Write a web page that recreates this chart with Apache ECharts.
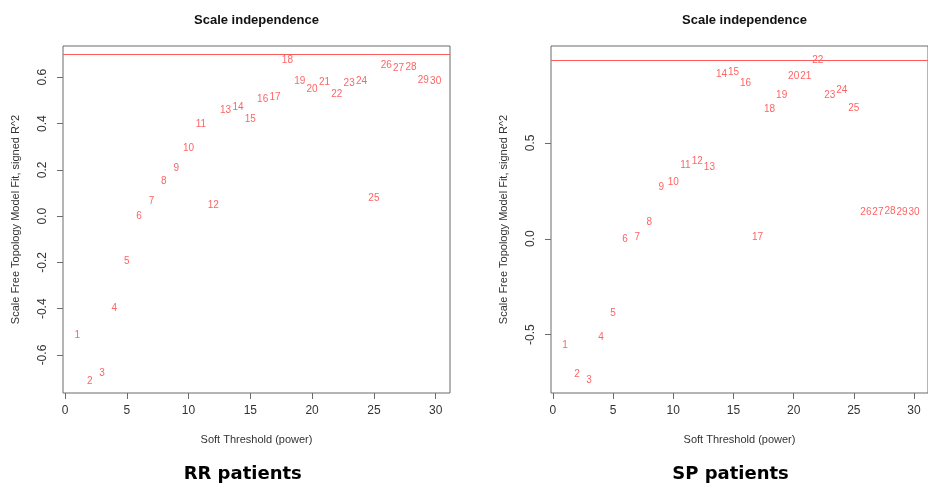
<!DOCTYPE html>
<html>
<head>
<meta charset="utf-8">
<script src="https://cdn.jsdelivr.net/npm/echarts@6/dist/echarts.min.js"></script>
<style>html,body{margin:0;padding:0;background:#fff}#c{width:928px;height:488px}</style>
</head>
<body>
<div id="c"></div>
<script>
// Soft threshold powers
const powers = [1,2,3,4,5,6,7,8,9,10,11,12,13,14,15,16,17,18,19,20,21,22,23,24,25,26,27,28,29,30];
// Scale free topology model fit, signed R^2
const rrFit = [-0.516,-0.712,-0.680,-0.400,-0.195,0.001,0.066,0.152,0.207,0.293,0.397,0.048,0.457,0.472,0.420,0.503,0.512,0.675,0.581,0.547,0.580,0.526,0.575,0.581,0.076,0.652,0.637,0.645,0.585,0.581];
const spFit = [-0.554,-0.708,-0.740,-0.514,-0.387,-0.003,0.007,0.088,0.271,0.297,0.382,0.403,0.371,0.859,0.868,0.812,0.007,0.675,0.750,0.845,0.849,0.932,0.750,0.776,0.682,0.139,0.139,0.144,0.139,0.139];
const rrCut = 0.70;
const spCut = 0.93;
const xTicks = [0,5,10,15,20,25,30];
const rrYTicks = [-0.6,-0.4,-0.2,0.0,0.2,0.4,0.6];
const spYTicks = [-0.5,0.0,0.5];
const panelTitles = ['Scale independence','Scale independence'];
const panelCaptions = ['RR patients','SP patients'];
const xName = 'Soft Threshold (power)';
const yName = 'Scale Free Topology Model Fit, signed R^2';

const chart = echarts.init(document.getElementById('c'), null, {renderer:'canvas'});
const axisCol = '#6a6a6a';
const txtCol = '#333';
const red = '#ff3b3b';
const grids = [
  {left:63, top:46, width:387, height:347},
  {left:551, top:46, width:387, height:347}
];
function xAxis(i){
  return {
    type:'value', gridIndex:i, min:-0.16, max:31.16, position:'bottom',
    name:xName, nameLocation:'middle', nameGap:41,
    nameTextStyle:{fontSize:11, color:txtCol, fontFamily:'Liberation Sans'},
    axisLine:{show:false, onZero:false}, splitLine:{show:false},
    axisTick:{show:true, length:6, customValues:xTicks, lineStyle:{color:axisCol}},
    axisLabel:{customValues:xTicks, margin:12, fontSize:12, color:txtCol, fontFamily:'Liberation Sans'}
  };
}
function yAxis(i, min, max, ticks){
  return {
    type:'value', gridIndex:i, min:min, max:max, position:'left',
    name:yName, nameLocation:'middle', nameGap:42, nameRotate:90,
    nameTextStyle:{fontSize:11, color:txtCol, fontFamily:'Liberation Sans'},
    axisLine:{show:false, onZero:false}, splitLine:{show:false},
    axisTick:{show:true, length:6, customValues:ticks, lineStyle:{color:axisCol}},
    axisLabel:{customValues:ticks, rotate:90, margin:14, fontSize:12, color:txtCol, fontFamily:'Liberation Sans',
      formatter:v=>Number(v).toFixed(1)}
  };
}
function series(i, vals, cut){
  return {
    type:'scatter', xAxisIndex:i, yAxisIndex:i,
    data: powers.map((p,k)=>[p, vals[k]]),
    symbolSize:1, itemStyle:{color:'transparent'},
    label:{show:true, position:'inside', formatter:pr=>String(pr.value[0]), color:red, fontSize:10, fontFamily:'Liberation Sans'},
    emphasis:{disabled:true},
    silent:true,
    markLine:{silent:true, symbol:'none', label:{show:false}, lineStyle:{color:'#ff5a5a', width:1, type:'solid'},
      data:[{yAxis:cut}]}
  };
}
chart.setOption({
  animation:false,
  backgroundColor:'#fff',
  grid: grids.map(g=>Object.assign({show:true, borderColor:axisCol, borderWidth:1, backgroundColor:'transparent', containLabel:false}, g)),
  xAxis:[xAxis(0), xAxis(1)],
  yAxis:[yAxis(0,-0.764,0.735,rrYTicks), yAxis(1,-0.804,1.005,spYTicks)],
  series:[series(0, rrFit, rrCut), series(1, spFit, spCut)],
  graphic:[
    {type:'text', x:256.5, y:20, style:{text:panelTitles[0], textAlign:'center', textVerticalAlign:'middle', font:'bold 13px "Liberation Sans"', fill:'#111'}},
    {type:'text', x:744.5, y:20, style:{text:panelTitles[1], textAlign:'center', textVerticalAlign:'middle', font:'bold 13px "Liberation Sans"', fill:'#111'}},
    {type:'text', x:242.7, y:474, style:{text:panelCaptions[0], textAlign:'center', textVerticalAlign:'middle', font:'bold 18px "DejaVu Sans"', fill:'#000'}},
    {type:'text', x:730.5, y:474, style:{text:panelCaptions[1], textAlign:'center', textVerticalAlign:'middle', font:'bold 18px "DejaVu Sans"', fill:'#000'}}
  ]
});
</script>
</body>
</html>
